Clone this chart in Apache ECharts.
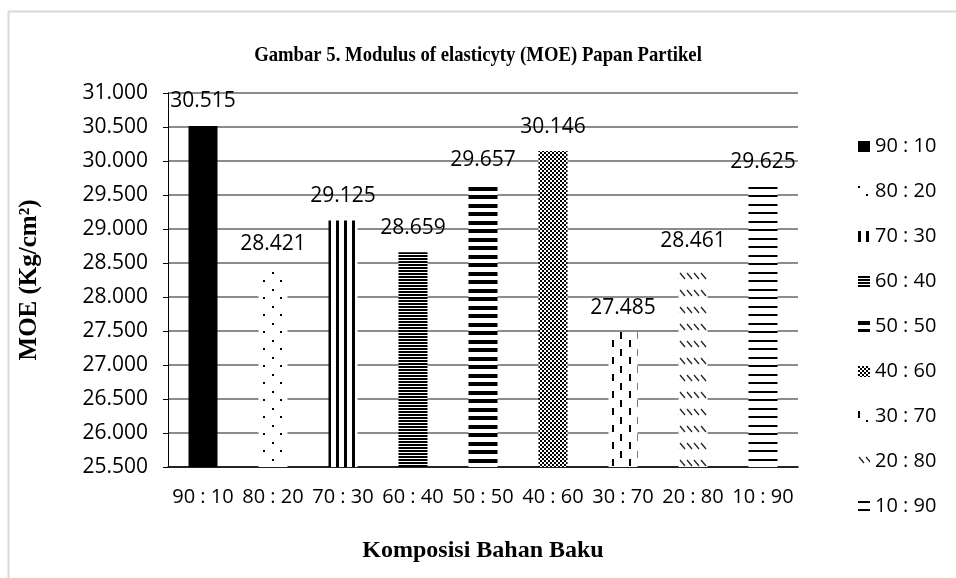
<!DOCTYPE html>
<html>
<head>
<meta charset="utf-8">
<script src="https://cdn.jsdelivr.net/npm/echarts@6/dist/echarts.min.js"></script>
<style>
html,body{margin:0;padding:0;background:#fff;}
#chart{width:956px;height:578px;}
</style>
</head>
<body>
<div id="chart"></div>
<script>
// ---- data ----
const categories = ['90 : 10','80 : 20','70 : 30','60 : 40','50 : 50','40 : 60','30 : 70','20 : 80','10 : 90'];
const moeValues = [30515, 28421, 29125, 28659, 29657, 30146, 27485, 28461, 29625];
const yMin = 25500, yMax = 31000, yStep = 500;
const titleText = 'Gambar 5. Modulus of elasticyty (MOE) Papan Partikel';
const yAxisTitle = 'MOE (Kg/cm²)';
const xAxisTitle = 'Komposisi Bahan Baku';

function fmt(v){
  const th = Math.floor(v/1000), r = Math.round(v%1000);
  return th + '.' + String(r).padStart(3,'0');
}

function makePattern(w, h, draw){
  const c = document.createElement('canvas');
  c.width = w; c.height = h;
  const ctx = c.getContext('2d');
  ctx.fillStyle = '#fff'; ctx.fillRect(0,0,w,h);
  ctx.fillStyle = '#000'; ctx.strokeStyle = '#000';
  draw(ctx);
  return {image: c, repeat: 'repeat'};
}

const patterns = [
  '#000',
  makePattern(17,17,ctx=>{ ctx.fillRect(0,0,2,2); ctx.fillRect(8,8,2,2); }),
  makePattern(8,4,ctx=>{ ctx.fillRect(0,0,3,4); }),
  makePattern(4,3,ctx=>{ ctx.fillRect(0,0,4,2); }),
  makePattern(4,17,ctx=>{ ctx.fillRect(0,0,4,4); ctx.fillRect(0,8,4,4); }),
  makePattern(4,4,ctx=>{ ctx.fillRect(0,0,2,2); ctx.fillRect(2,2,2,2); ctx.fillRect(1,0,1,1); }),
  makePattern(17,17,ctx=>{ ctx.fillRect(0,0,2,7); ctx.fillRect(8,9,2,7); }),
  makePattern(7,17,ctx=>{ ctx.lineWidth=1.3; ctx.strokeStyle='#222'; ctx.beginPath(); ctx.moveTo(1,1); ctx.lineTo(6,7); ctx.stroke(); }),
  makePattern(4,17,ctx=>{ ctx.fillRect(0,0,4,2); ctx.fillRect(0,8,4,2); })
];

const series = categories.map((cat, i) => ({
  name: cat,
  type: 'bar',
  barWidth: 29,
  barGap: '-100%',
  data: categories.map((c, j) => j === i ? moeValues[i] : '-'),
  itemStyle: { color: patterns[i] },
  label: {
    show: true, position: 'top', distance: 14,
    formatter: p => fmt(p.value),
    fontFamily: 'Open Sans', fontSize: 21, color: '#000'
  },
  emphasis: { disabled: true }
}));

const chart = echarts.init(document.getElementById('chart'), null, {renderer: 'canvas'});
chart.setOption({
  animation: false,
  backgroundColor: '#fff',
  graphic: [{
    type: 'rect', left: 6, top: 9, shape: {width: 1000, height: 620},
    style: {fill: 'none', stroke: '#d9d9d9', lineWidth: 2}, silent: true, z: -1
  }, {
    type: 'text', x: 478, y: 55, scaleX: 0.85, silent: true,
    style: {
      text: titleText, align: 'center', verticalAlign: 'middle',
      fontFamily: 'Liberation Serif', fontWeight: 'bold', fontSize: 22, fill: '#000'
    }
  }],
  grid: { left: 168, top: 93, width: 630, height: 374, containLabel: false },
  legend: {
    orient: 'vertical', left: 853, top: 131, itemWidth: 12, itemHeight: 11,
    itemGap: 24, icon: 'rect',
    textStyle: { fontFamily: 'Open Sans', fontSize: 20, color: '#000', lineHeight: 21 },
    data: categories
  },
  xAxis: {
    type: 'category', data: categories,
    name: xAxisTitle, nameLocation: 'middle', nameGap: 72,
    nameTextStyle: { fontFamily: 'Liberation Serif', fontWeight: 'bold', fontSize: 24, color: '#000' },
    axisLine: { lineStyle: { color: '#000', width: 1.5 } },
    axisTick: { show: false },
    axisLabel: { fontFamily: 'Open Sans', fontSize: 20, color: '#000', margin: 20, interval: 0 }
  },
  yAxis: {
    type: 'value', min: yMin, max: yMax, interval: yStep,
    name: yAxisTitle, nameLocation: 'middle', nameGap: 126,
    nameTextStyle: { fontFamily: 'Liberation Serif', fontWeight: 'bold', fontSize: 25, color: '#000' },
    axisLine: { show: true, lineStyle: { color: '#000', width: 1 } },
    axisTick: { show: true, length: 5, lineStyle: { color: '#000' } },
    axisLabel: { fontFamily: 'Open Sans', fontSize: 21, color: '#000', margin: 20, formatter: v => fmt(v) },
    splitLine: { lineStyle: { color: '#8c8c8c', width: 2 } }
  },
  series: series
});
</script>
</body>
</html>
